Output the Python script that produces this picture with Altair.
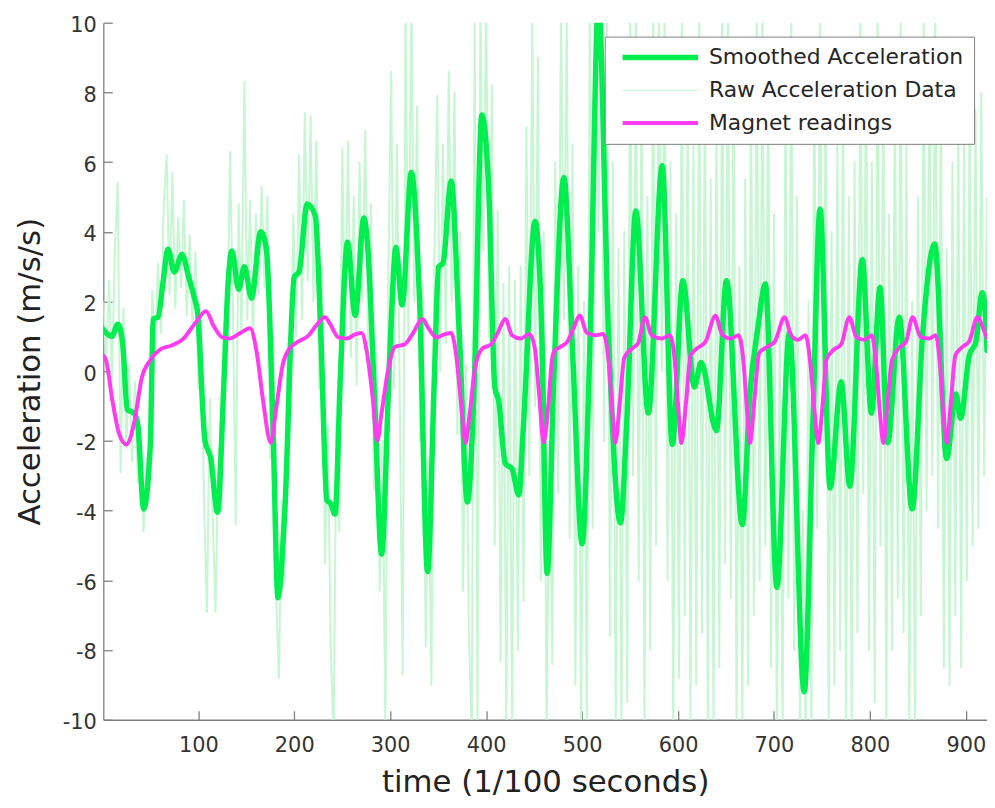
import altair as alt
import pandas as pd

FONT = "DejaVu Sans"

x_ticks = [100, 200, 300, 400, 500, 600, 700, 800, 900]
y_ticks = [-10, -8, -6, -4, -2, 0, 2, 4, 6, 8, 10]

series_names = ["Smoothed Acceleration", "Raw Acceleration Data", "Magnet readings"]
series_colors = ["#00ee50", "#c6f6d2", "#ff3cf0"]
series_widths = [5.5, 1.0, 4.0]
raw_line_width = 2.0

# Smoothed acceleration (key points)
smooth_t = [1, 4, 10, 16, 21, 26, 33, 37, 43, 50, 53, 58, 63, 68.5, 75, 83, 90, 96, 99,
            107, 113, 120, 126.5, 131, 135, 142, 148, 155.5, 165, 171, 178, 183, 190,
            200, 205, 213.5, 222, 228, 234, 238, 242.5, 248, 255.5, 263.5, 272.5, 277,
            284, 291, 299.5, 306, 312.5, 322, 330.5, 339, 346, 350.5, 355, 363.5, 372,
            380.5, 387.5, 395.5, 403, 409, 413, 420, 427, 434, 439, 451, 458, 463.5,
            470.5, 481, 490.5, 500, 508.5, 517, 527.5, 540, 546.5, 556, 569, 583.5,
            594, 605, 617, 624, 640, 650.5, 667, 675, 683, 691, 703, 716, 731.5, 740.5,
            748, 758.5, 770, 779, 792, 801.5, 810.5, 818.5, 830.5, 844, 855, 867.5,
            880, 889.5, 894.5, 903.5, 910.5, 917, 920, 922]
smooth_v = [1.2, 1.1, 1.0, 1.35, 0.85, -1.1, -1.2, -1.55, -3.95, -2.1, 1.5, 1.55, 2.5, 3.5,
            2.85, 3.35, 2.7, 2.1, 1.75, -2.0, -2.5, -4.05, -0.45, 2.5, 3.45, 2.35, 3.0,
            2.1, 4.0, 3.5, -1.75, -6.5, -4.1, 2.7, 2.85, 4.8, 4.45, 0.8, -3.7, -3.8,
            -4.1, -0.2, 3.7, 1.6, 4.4, 3.4, -1.0, -5.25, 0.45, 3.55, 1.9, 5.7, 2.1,
            -5.75, -0.2, 3.0, 3.1, 5.45, 1.1, -3.75, -0.45, 7.35, 5.0, -0.45, -0.85,
            -2.65, -2.8, -3.55, -1.5, 4.3, 1.1, -5.8, -0.2, 5.55, 0.3, -4.95, 1.1, 10.6,
            1.1, -4.35, -1.5, 4.6, -1.2, 5.9, -2.1, 2.6, -0.45, 0.25, -1.7, 2.6, -4.4,
            -0.6, 1.2, 2.5, -6.2, 1.1, -9.2, -1.5, 4.65, -3.35, -0.3, -3.3, 3.2, -1.2,
            2.4, -2.05, 1.55, -3.95, 1.1, 3.65, -2.5, -0.65, -1.35, 0.45, 0.85, 2.25,
            1.8, 0.6]

# Magnet readings (key points)
magnet_t = [1, 4, 10.5, 17.5, 25, 33, 41, 50, 60, 72, 84, 96, 108, 116, 125, 133, 144, 154,
            161, 167.5, 175.5, 181, 188, 195, 203.5, 215, 224, 232, 237.5, 246, 255,
            263.5, 270, 275.5, 281.5, 286.5, 291, 298, 305, 315, 324, 333.5, 340, 348,
            356.5, 363.5, 368.5, 374, 378.5, 382.5, 389, 396, 405, 412, 420, 427, 436,
            445, 450.5, 455, 460, 465, 468.5, 471, 477.5, 484.5, 491, 497.5, 505, 514,
            522, 527.5, 531, 534.5, 539.5, 544, 552, 558.5, 565.5, 572.5, 583, 591.5,
            596.5, 600, 603.5, 608.5, 613, 620.5, 628.5, 639, 646.5, 655, 663, 668,
            671.5, 675, 679.5, 684.5, 693, 701, 711, 718, 725, 733, 738, 742.5, 746,
            751, 754.5, 761.5, 770, 778.5, 786, 794, 802, 806.5, 810.5, 814, 818.5, 823,
            830.5, 837.5, 844.5, 853, 862, 868.5, 873, 876.5, 880, 884.5, 889, 896.5,
            903.5, 912, 919, 922]
magnet_v = [0.45, 0.3, -0.85, -1.8, -2.1, -1.5, -0.2, 0.32, 0.62, 0.74, 0.92, 1.35, 1.72,
            1.3, 0.97, 0.94, 1.1, 1.23, 0.52, -0.84, -2.05, -1.1, 0.19, 0.65, 0.84, 1.03,
            1.35, 1.55, 1.35, 0.97, 0.94, 1.06, 1.1, 0.58, -0.7, -2.0, -1.2, 0.06, 0.7,
            0.77, 1.1, 1.5, 1.23, 0.97, 1.06, 1.1, 0.52, -0.97, -2.06, -1.3, 0.19, 0.65,
            0.77, 1.1, 1.5, 1.03, 0.94, 1.07, 0.7, -0.58, -2.04, -0.9, 0.3, 0.58, 0.7,
            0.84, 1.23, 1.6, 1.1, 1.03, 1.07, 0.32, -0.97, -2.06, -0.84, 0.39, 0.65, 0.81,
            1.55, 1.03, 0.94, 1.03, 0.32, -0.97, -2.06, -0.84, 0.45, 0.67, 0.84, 1.59,
            1.03, 0.94, 1.03, 0.32, -0.97, -2.06, -0.84, 0.52, 0.7, 0.86, 1.55, 1.03, 0.9,
            1.03, 0.19, -1.23, -2.06, -0.84, 0.32, 0.6, 0.77, 1.55, 0.97, 0.9, 1.03, 0.19,
            -1.23, -2.06, -0.84, 0.32, 0.67, 0.84, 1.55, 0.97, 0.94, 1.03, 0.19, -1.23,
            -2.06, -0.84, 0.45, 0.7, 0.86, 1.55, 1.16, 0.95]

# Raw acceleration samples, every 3rd sample (t = 1, 4, 7, ...)
raw_v = [
    # t 1 - 100
    2.0, 0.3, 2.6, -0.4, 3.5, 5.4, -2.9, 1.8, -2.2, 0.2, -2.6, -0.3, -3.2, -1.8, -4.6,
    -2.5, -3.3, 2.3, 0.6, 3.1, 1.1, 4.8, 6.2, 2.2, 5.7, 1.8, 4.4, 2.4, 4.9, 1.6, 3.9,
    1.2, 3.4, -0.5,
    # t 103 - 199
    1.5, -3.8, -6.9, -0.8, -4.2, -6.9, -2.2, -4.0, 1.4, 0.2, 6.3, 1.9, -4.4, 4.8, 1.1,
    8.3, 1.5, 4.9, 0.9, 4.5, 2.2, 5.3, 2.4, 5.0, -2.5, 1.0, -6.3, -8.8, -3.7, -6.0, 0.8,
    -1.2, 4.5,
    # t 202 - 301
    1.0, 6.2, 1.5, 7.4, 2.6, 7.3, 2.0, 6.6, -0.5, 3.0, -5.5, -1.6, -8.0, -10.5, -1.5,
    -4.6, 6.4, 1.0, 6.6, 0.4, 5.0, -0.4, 6.0, 2.0, 6.9, 0.5, 4.8, -3.4, 0.5, -6.3, -2.0,
    -10.3, 2.6, 8.6,
    # t 304 - 400
    -0.5, 6.5, -1.0, -8.7, 10.5, 1.0, 10.8, 2.0, 7.6, -2.0, 2.5, -7.9, -2.5, -9.0, 3.2,
    7.9, 0.0, 6.5, 0.8, 8.6, 2.0, 8.0, -1.8, 4.0, -6.3, 0.2, -7.5, -10.5, 10.5, -10.4,
    10.6, 3.5, 10.5,
    # t 403 - 499
    1.0, 8.2, -5.0, 4.6, -8.3, 2.5, -10.4, 3.0, -10.3, 2.6, -8.0, 3.0, -6.6, 7.0, -3.0,
    10.4, -1.0, 9.0, -6.0, 4.0, -10.5, -2.0, -8.4, 6.0, -3.5, 10.5, 1.5, 10.4, -4.8, 6.5,
    -9.0, 3.0, -10.5,
    # t 502 - 922
    2.0, -10.4, 10.5, -4.5, 10.6, 4.0, 10.6, -2.0, 10.4, -7.6,
    6.0, -10.5, 3.5, -10.4, 4.0, -9.5, 10.5, -3.0, 10.4, -6.0,
    8.5, -10.3, 5.0, -8.0, 10.5, -5.0, 10.6, 0.0, 10.5, -6.0,
    6.0, -10.5, 4.5, -8.8, 10.4, -7.0, 8.0, -10.3, 6.5, -9.0,
    10.4, -7.5, 9.0, -10.4, 5.5, -10.3, 7.0, -8.5, 10.4, -5.5,
    10.5, -6.5, 9.5, -10.4, 3.0, -10.5, 5.5, -9.0, 8.5, -7.0,
    10.4, -6.0, 10.5, -5.0, 9.0, -8.5, 4.5, -10.5, 1.0, -10.4,
    8.0, -6.5, 10.4, -8.0, 5.0, -10.5, -4.0, -10.6, 2.0, -10.4,
    8.5, -4.5, 10.5, -2.0, 9.0, -10.4, 4.0, -9.0, 6.5, -8.0,
    8.5, -10.3, 5.0, -10.4, 6.0, -7.5, 10.4, -3.5, 9.5, -8.0,
    6.0, -9.5, 10.4, -5.0, 9.0, -10.3, 4.5, -8.0, 8.5, -6.5,
    10.4, -7.5, 6.5, -10.4, 2.0, -10.3, 5.0, -7.0, 10.4, -4.0,
    9.5, -3.0, 10.5, -4.5, 8.0, -8.5, 3.5, -9.0, 6.0, -7.0,
    7.5, -8.5, 6.5, -6.0, 8.0, -5.0, 7.5, -4.5, 8.0, -3.0,
    5.0,
]
raw_t = [1 + 3 * i for i in range(len(raw_v))]

df_smooth = pd.DataFrame({"t": smooth_t, "v": smooth_v, "series": series_names[0]})
df_raw = pd.DataFrame({"t": raw_t, "v": raw_v, "series": series_names[1]})
df_magnet = pd.DataFrame({"t": magnet_t, "v": magnet_v, "series": series_names[2]})

xscale = alt.Scale(domain=[1, 922], nice=False, zero=False)
yscale = alt.Scale(domain=[-10, 10], nice=False, zero=False)

legend = alt.Legend(
    title=None, orient="none", legendX=505, legendY=14, direction="vertical",
    symbolType="stroke", symbolSize=5776, symbolOffset=5, clipHeight=22,
    labelFont=FONT, labelFontSize=22, labelColor="#262626", labelOffset=8,
    labelLimit=400, padding=10, rowPadding=11,
    strokeColor="#808080", fillColor="white",
)
color = alt.Color("series:N", scale=alt.Scale(domain=series_names, range=series_colors),
                  legend=legend)
stroke_w = alt.StrokeWidth("series:N",
                           scale=alt.Scale(type="ordinal", domain=series_names,
                                           range=series_widths),
                           legend=legend)

hyphen_label = "datum.value < 0 ? '-' + abs(datum.value) : '' + datum.value"

main_x_axis = alt.Axis(
    values=x_ticks, orient="bottom", title="time (1/100 seconds)", ticks=False, grid=False,
    domainColor="#808080", domainWidth=1.3,
    labelFont=FONT, labelFontSize=21, labelColor="#333333", labelPadding=15,
    labelFlush=False, labelOverlap=False,
    titleFont=FONT, titleFontSize=31, titleFontWeight="normal", titleColor="#222222",
    titleX=445, titleY=72, titleBaseline="alphabetic", titleAlign="center",
)
main_y_axis = alt.Axis(
    values=y_ticks, orient="left", title="Acceleration (m/s/s)", ticks=False, grid=False,
    domainColor="#808080", domainWidth=1.3, labelExpr=hyphen_label,
    labelFont=FONT, labelFontSize=21, labelColor="#333333", labelPadding=7,
    labelOffset=3, labelFlush=False, labelOverlap=False,
    titleFont=FONT, titleFontSize=31, titleFontWeight="normal", titleColor="#222222",
    titleX=-64, titleY=351, titleBaseline="alphabetic", titleAlign="center",
)
tick_x_axis = alt.Axis(values=x_ticks, orient="bottom", offset=-9, ticks=True, tickSize=9,
                       tickColor="#808080", tickWidth=1.3, labels=False, domain=False,
                       grid=False, title=None)
tick_y_axis = alt.Axis(values=y_ticks, orient="left", offset=-9, ticks=True, tickSize=9,
                       tickColor="#808080", tickWidth=1.3, labels=False, domain=False,
                       grid=False, title=None)

raw_layer = alt.Chart(df_raw).mark_line(
    clip=True, strokeJoin="round", strokeWidth=raw_line_width).encode(
    x=alt.X("t:Q", scale=xscale, axis=main_x_axis),
    y=alt.Y("v:Q", scale=yscale, axis=main_y_axis),
    color=color,
)
smooth_layer = alt.Chart(df_smooth).mark_line(
    clip=True, interpolate="monotone", strokeJoin="round", strokeCap="round").encode(
    x=alt.X("t:Q", scale=xscale, axis=None),
    y=alt.Y("v:Q", scale=yscale, axis=None),
    color=color, strokeWidth=stroke_w,
)
magnet_layer = alt.Chart(df_magnet).mark_line(
    clip=True, interpolate="monotone", strokeJoin="round", strokeCap="round").encode(
    x=alt.X("t:Q", scale=xscale, axis=tick_x_axis),
    y=alt.Y("v:Q", scale=yscale, axis=tick_y_axis),
    color=color, strokeWidth=stroke_w,
)

chart = alt.layer(raw_layer, smooth_layer, magnet_layer).resolve_axis(
    x="independent", y="independent"
).properties(
    width=890, height=702,
    autosize=alt.AutoSizeParams(type="none"),
    padding={"left": 96, "top": 12, "right": 0, "bottom": 76},
    background="white",
).configure_view(strokeWidth=0)

chart.save("out.html", embed_options={"renderer": "svg", "actions": False})
